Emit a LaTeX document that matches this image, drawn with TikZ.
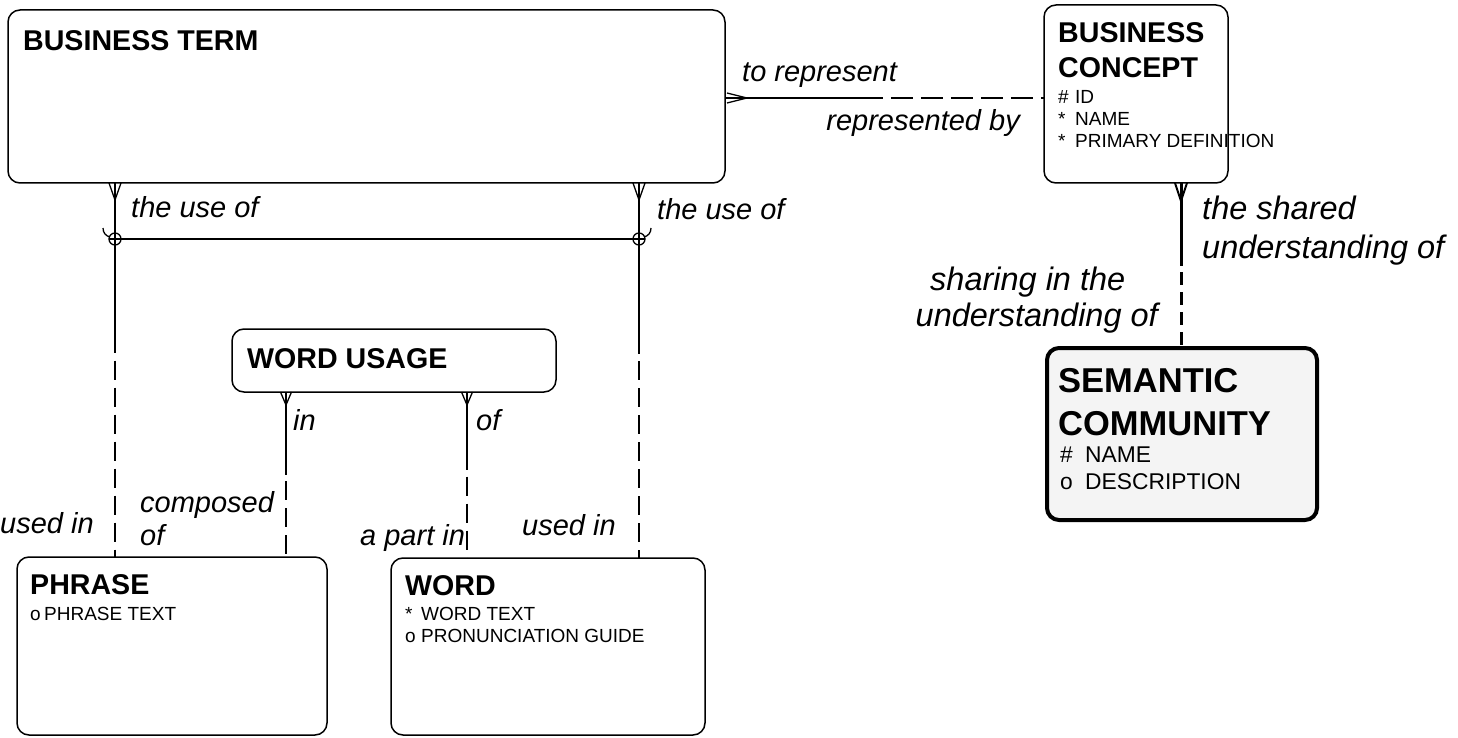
\documentclass[tikz,border=0pt]{standalone}
\usepackage{fontspec}
\setmainfont{Liberation Sans}
\usetikzlibrary{calc}
\definecolor{scfill}{RGB}{244,244,244}
\begin{document}
\begin{tikzpicture}[x=1pt,y=-1pt,
  box/.style={draw, line width=1.5pt, rounded corners=12pt, anchor=north west, inner sep=0pt, outer sep=0pt},
  rel/.style={line width=1.3pt},
  dashrel/.style={dash pattern=on 19pt off 8pt},
  thickrel/.style={line width=3pt},
  thickdash/.style={dash pattern=on 13pt off 7pt},
  ttl/.style={inner sep=0pt, anchor=base west, font=\fontsize{28.6}{34}\selectfont\bfseries},
  bigttl/.style={inner sep=0pt, anchor=base west, font=\fontsize{34.5}{40}\selectfont\bfseries},
  attr/.style={inner sep=0pt, anchor=base west, font=\fontsize{19}{22}\selectfont},
  bigattr/.style={inner sep=0pt, anchor=base west, font=\fontsize{22.8}{26}\selectfont},
  lbl/.style={inner sep=0pt, anchor=base west, font=\fontsize{29}{34}\selectfont\itshape},
  biglbl/.style={inner sep=0pt, anchor=base west, font=\fontsize{32.5}{38}\selectfont\itshape}
]
\useasboundingbox (0,0) rectangle (1458,738);

% entity boxes
\node[box, minimum width=717pt, minimum height=173pt] (bt) at (8,10) {};
\node[box, minimum width=184pt, minimum height=178pt] (bc) at (1044,5) {};
\node[box, line width=4pt, fill=scfill, minimum width=270pt, minimum height=172pt] (sc) at (1047,348) {};
\node[box, minimum width=324pt, minimum height=63pt] (wu) at (232,329) {};
\node[box, minimum width=310pt, minimum height=178pt] (ph) at (17,557) {};
\node[box, minimum width=314pt, minimum height=177pt] (wd) at (391,558) {};

% titles and attributes
\node[ttl] (btT) at (23,51) {BUSINESS TERM};
\node[ttl] (bcT1) at (1058,43) {BUSINESS};
\node[ttl] (bcT2) at (1058,78) {CONCEPT};
\node[attr] (bcA1) at (1058,104) {\makebox[17pt][l]{\#}ID};
\node[attr] (bcA2) at (1058,126) {\makebox[17pt][l]{*}NAME};
\node[attr] (bcA3) at (1058,148) {\makebox[17pt][l]{*}PRIMARY DEFINITION};
\node[bigttl] (scT1) at (1058,392) {SEMANTIC};
\node[bigttl] (scT2) at (1058,435) {COMMUNITY};
\node[bigattr] (scA1) at (1060,462) {\makebox[25pt][l]{\#}NAME};
\node[bigattr] (scA2) at (1060,489) {\makebox[25pt][l]{o}DESCRIPTION};
\node[ttl] (wuT) at (247,368) {WORD USAGE};
\node[ttl] (phT) at (30,594) {PHRASE};
\node[attr] (phA1) at (30,620) {\makebox[14pt][l]{o}PHRASE TEXT};
\node[ttl] (wdT) at (405,595) {WORD};
\node[attr] (wdA1) at (405,620) {\makebox[16pt][l]{*}WORD TEXT};
\node[attr] (wdA2) at (405,642) {\makebox[16pt][l]{o}PRONUNCIATION GUIDE};

% connector positions
\coordinate (xa) at (115,0);
\coordinate (xb) at (639,0);
\coordinate (xc) at (286,0);
\coordinate (xd) at (467,0);
\coordinate (ye) at (0,98);
\coordinate (xf) at (1181,0);

% BUSINESS TERM -- PHRASE
\draw[rel] (bt.south -| xa) -- ($(bt.south -| xa)!.455!(ph.north -| xa)$);
\draw[rel,dashrel] ($(bt.south -| xa)!.475!(ph.north -| xa)$) -- (ph.north -| xa);
\draw[rel] ($(bt.south -| xa)+(-6,0)$) -- ($(bt.south -| xa)+(0,17)$) -- ($(bt.south -| xa)+(6,0)$);
% BUSINESS TERM -- WORD
\draw[rel] (bt.south -| xb) -- ($(bt.south -| xb)!.455!(wd.north -| xb)$);
\draw[rel,dashrel] ($(bt.south -| xb)!.475!(wd.north -| xb)$) -- (wd.north -| xb);
\draw[rel] ($(bt.south -| xb)+(-6,0)$) -- ($(bt.south -| xb)+(0,17)$) -- ($(bt.south -| xb)+(6,0)$);
% exclusive arc
\coordinate (ca) at ($(bt.south -| xa)+(0,56)$);
\coordinate (cb) at ($(bt.south -| xb)+(0,56)$);
\draw[rel] (ca) circle (6pt);
\draw[rel] (cb) circle (6pt);
\draw[rel] ($(ca)+(-6,0)$) -- ($(cb)+(6,0)$);
\draw[rel] ($(ca)+(-12,-11)$) .. controls +(0,5) and +(-4,-1) .. ($(ca)+(-5,-2)$);
\draw[rel] ($(cb)+(12,-11)$) .. controls +(0,5) and +(4,-1) .. ($(cb)+(5,-2)$);

% WORD USAGE -- PHRASE
\draw[rel] (wu.south -| xc) -- ($(wu.south -| xc)!.5!(ph.north -| xc)$);
\draw[rel,dashrel] ($(wu.south -| xc)!.54!(ph.north -| xc)$) -- (ph.north -| xc);
\draw[rel] ($(wu.south -| xc)+(-5.5,0)$) -- ($(wu.south -| xc)+(0,13)$) -- ($(wu.south -| xc)+(5.5,0)$);
% WORD USAGE -- WORD
\draw[rel] (wu.south -| xd) -- ($(wu.south -| xd)!.47!(wd.north -| xd)$);
\draw[rel,dashrel] ($(wu.south -| xd)!.51!(wd.north -| xd)$) -- (wd.north -| xd);
\draw[rel] ($(wu.south -| xd)+(-5.5,0)$) -- ($(wu.south -| xd)+(0,13)$) -- ($(wu.south -| xd)+(5.5,0)$);

% BUSINESS TERM -- BUSINESS CONCEPT
\draw[rel] (bt.east |- ye) -- ($(bt.east |- ye)!.495!(bc.west |- ye)$);
\draw[rel,dash pattern=on 22pt off 8pt] ($(bt.east |- ye)!.52!(bc.west |- ye)$) -- (bc.west |- ye);
\draw[rel] ($(bt.east |- ye)+(2,-5)$) -- ($(bt.east |- ye)+(22,0)$) -- ($(bt.east |- ye)+(2,5)$);

% BUSINESS CONCEPT -- SEMANTIC COMMUNITY
\draw[thickrel] (bc.south -| xf) -- ($(bc.south -| xf)!.5!(sc.north -| xf)$);
\draw[thickrel,thickdash] ($(bc.south -| xf)!.54!(sc.north -| xf)$) -- (sc.north -| xf);
\draw[rel,line width=2pt] ($(bc.south -| xf)+(-6,0)$) -- ($(bc.south -| xf)+(0,18)$) -- ($(bc.south -| xf)+(6,0)$);

% relationship labels
\node[lbl] (l1) at (131,217) {the use of};
\node[lbl] (l2) at (657,219) {the use of};
\node[lbl] (l3) at (742,82) {to represent};
\node[lbl,anchor=base east] (l4) at (1020,131) {represented by};
\node[biglbl] (l5a) at (1202,219) {the shared};
\node[biglbl] (l5b) at (1202,258) {understanding of};
\node[biglbl] (l6a) at (930,290) {sharing in the};
\node[biglbl,anchor=base east] (l6b) at (1158,326) {understanding of};
\node[lbl] (l7) at (0,533) {used in};
\node[lbl] (l8a) at (140,512) {composed};
\node[lbl] (l8b) at (140,545) {of};
\node[lbl] (l9) at (293,430) {in};
\node[lbl] (l10) at (476,430) {of};
\node[lbl] (l11) at (360,545) {a part in};
\node[lbl] (l12) at (522,535) {used in};
\end{tikzpicture}
\end{document}
